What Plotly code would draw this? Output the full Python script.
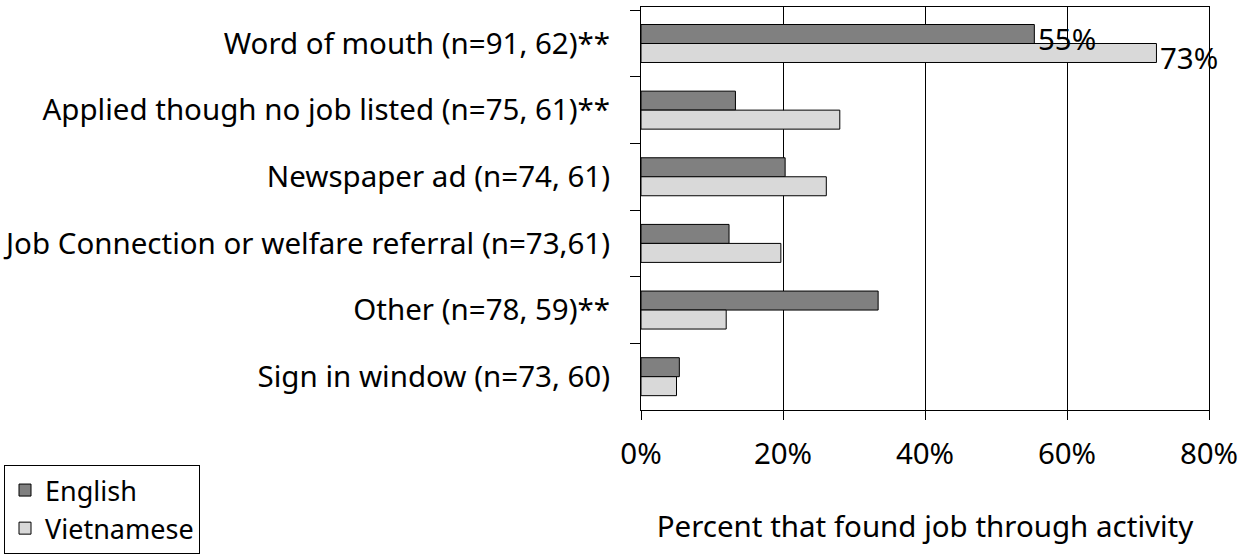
import plotly.graph_objects as go

categories = [
    "Word of mouth (n=91, 62)**",
    "Applied though no job listed (n=75, 61)**",
    "Newspaper ad (n=74, 61)",
    "Job Connection or welfare referral (n=73,61)",
    "Other (n=78, 59)**",
    "Sign in window (n=73, 60)",
]
english = [55.4, 13.3, 20.3, 12.4, 33.4, 5.4]
vietnamese = [72.6, 28.0, 26.1, 19.7, 12.0, 5.0]
tick_vals = [0, 20, 40, 60, 80]
tick_text = ["0%", "20%", "40%", "60%", "80%"]

FONT = "Noto Sans"
FS = 29.5
fig = go.Figure()
fig.add_trace(go.Bar(y=categories, x=english, orientation="h", name="English",
                     marker=dict(color="#808080", line=dict(color="black", width=1))))
fig.add_trace(go.Bar(y=categories, x=vietnamese, orientation="h", name="Vietnamese",
                     marker=dict(color="#d9d9d9", line=dict(color="black", width=1))))

# value labels for the first category
fig.add_annotation(x=english[0], y=categories[0], text=f"{round(english[0])}%",
                   showarrow=False, xanchor="left", xshift=2, yshift=5,
                   font=dict(family=FONT, size=FS, color="black"))
fig.add_annotation(x=vietnamese[0], y=categories[0], text=f"{round(vietnamese[0])}%",
                   showarrow=False, xanchor="left", xshift=2, yshift=-14,
                   font=dict(family=FONT, size=FS, color="black"))

fig.update_layout(
    width=1247, height=554,
    margin=dict(l=641, r=38, t=7, b=144),
    paper_bgcolor="white", plot_bgcolor="white",
    barmode="group", bargap=0.43, bargroupgap=0,
    font=dict(family=FONT, size=FS, color="black"),
    legend=dict(xref="container", yref="container",
                x=4 / 1247, y=1 - 465 / 554, xanchor="left", yanchor="top",
                bordercolor="black", borderwidth=1, bgcolor="white",
                font=dict(family=FONT, size=27), itemwidth=30,
                tracegroupgap=0, traceorder="normal"),
    showlegend=True,
)
fig.update_xaxes(range=[0, 80], tickvals=tick_vals, ticktext=tick_text,
                 showgrid=True, gridcolor="black", gridwidth=1,
                 showline=True, linecolor="black", linewidth=1, mirror=True,
                 ticks="outside", ticklen=9, tickcolor="black",
                 ticklabelstandoff=9, zeroline=False,
                 title=dict(text="Percent that found job through activity",
                            standoff=43, font=dict(family=FONT, size=FS)),
                 automargin=False)
fig.update_yaxes(autorange="reversed", showline=True, linecolor="black",
                 linewidth=1, mirror=True, ticks="outside", ticklen=10,
                 tickcolor="black", tickson="boundaries", showgrid=False,
                 ticklabelstandoff=24, automargin=False)

fig.write_html("out.html", config={"displayModeBar": False},
               post_script="document.body.style.margin='0';")
